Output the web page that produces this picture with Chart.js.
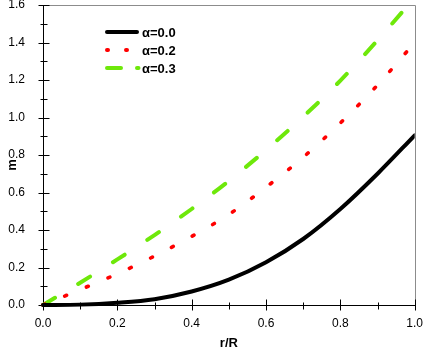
<!DOCTYPE html>
<html>
<head>
<meta charset="utf-8">
<title>m vs r/R</title>
<script src="https://cdn.jsdelivr.net/npm/chart.js@4.4.0/dist/chart.umd.min.js"></script>
<style>
  html, body { margin: 0; padding: 0; background: #fff; }
  canvas { display: block; }
</style>
</head>
<body>
<canvas id="chart" width="423" height="348"></canvas>
<script>
// ---- data ----
const rOverR   = [0, 0.1, 0.2, 0.3, 0.4, 0.5, 0.6, 0.7, 0.8, 0.9, 1.0];
const mAlpha00 = [0, 0.002, 0.012, 0.031, 0.072, 0.135, 0.228, 0.352, 0.512, 0.70, 0.905];
const mAlpha02 = [0, 0.082, 0.166, 0.261, 0.366, 0.483, 0.628, 0.788, 0.971, 1.173, 1.40];
const mAlpha03 = [0, 0.119, 0.243, 0.373, 0.512, 0.662, 0.827, 1.004, 1.197, 1.412, 1.64];
const seriesLabels = ['α=0.0', 'α=0.2', 'α=0.3'];

const FONT = '"Liberation Sans", Arial, sans-serif';

const toPoints = ys => rOverR.map((x, i) => ({ x, y: ys[i] }));

// axis frame + ticks crossing the axis lines (Tecplot style)
const framePlugin = {
  id: 'frame',
  beforeDatasetsDraw(chart) {
    const { ctx, chartArea: a, scales: { x, y } } = chart;
    const L = Math.round(a.left) + 0.5, B = Math.round(a.bottom) + 0.5;
    const R = Math.round(a.right) + 0.5, T = Math.round(a.top) + 0.5;
    ctx.save();
    ctx.lineWidth = 1;
    // top / right border in grey
    ctx.strokeStyle = '#8c8c8c';
    ctx.beginPath();
    ctx.moveTo(L, T); ctx.lineTo(R, T); ctx.lineTo(R, B);
    ctx.stroke();
    // axes
    ctx.strokeStyle = '#000';
    ctx.beginPath();
    ctx.moveTo(L, T); ctx.lineTo(L, B); ctx.lineTo(R, B);
    // y ticks
    for (let k = 0; k <= 16; k++) {
      const py = Math.round(y.getPixelForValue(k / 10)) + 0.5;
      const major = k % 2 === 0;
      ctx.moveTo(L - (major ? 5 : 3), py);
      ctx.lineTo(L + (major ? 6 : 4), py);
    }
    // x ticks
    for (let k = 0; k <= 10; k++) {
      const px = Math.round(x.getPixelForValue(k / 10)) + 0.5;
      const major = k % 2 === 0;
      ctx.moveTo(px, B - (major ? 6 : 3));
      ctx.lineTo(px, B + (major ? 5 : 4));
    }
    ctx.stroke();
    ctx.restore();
  },
  afterDraw(chart) {
    // y axis title
    const { ctx } = chart;
    ctx.save();
    ctx.fillStyle = '#000';
    ctx.font = 'bold 13px ' + FONT;
    ctx.textAlign = 'center';
    ctx.textBaseline = 'middle';
    ctx.translate(12, 165);
    ctx.rotate(-Math.PI / 2);
    ctx.fillText('m', 0, 0);
    ctx.restore();
  }
};

// legend inside the plot, top-left
const legendDashes = [[], [1, 18], [14, 16]];
const legendEnds   = [137, 137, 138.5];
const legendPlugin = {
  id: 'insideLegend',
  afterDraw(chart) {
    const ctx = chart.ctx;
    chart.data.datasets.forEach((ds, i) => {
      const yy = 32 + i * 18;
      ctx.save();
      ctx.strokeStyle = ds.borderColor;
      ctx.lineWidth = 4;
      ctx.lineCap = 'round';
      ctx.setLineDash(legendDashes[i]);
      ctx.beginPath();
      ctx.moveTo(107, yy);
      ctx.lineTo(legendEnds[i], yy);
      ctx.stroke();
      ctx.setLineDash([]);
      ctx.fillStyle = '#000';
      ctx.font = 'bold 13px ' + FONT;
      ctx.textBaseline = 'middle';
      ctx.fillText(ds.label, 142, yy + 1);
      ctx.restore();
    });
  }
};

const lineClip = { left: 2, top: 0, right: 0, bottom: 3 };

new Chart(document.getElementById('chart'), {
  type: 'line',
  data: {
    datasets: [
      {
        label: seriesLabels[0],
        data: toPoints(mAlpha00),
        borderColor: '#000000',
        borderWidth: 4,
        borderCapStyle: 'round',
        cubicInterpolationMode: 'monotone',
        pointRadius: 0,
        clip: lineClip
      },
      {
        label: seriesLabels[1],
        data: toPoints(mAlpha02),
        borderColor: '#ff0000',
        borderWidth: 3.6,
        borderDash: [2, 21.5],
        borderCapStyle: 'round',
        cubicInterpolationMode: 'monotone',
        pointRadius: 0,
        clip: lineClip
      },
      {
        label: seriesLabels[2],
        data: toPoints(mAlpha03),
        borderColor: '#6ee80a',
        borderWidth: 4,
        borderDash: [14, 27],
        borderCapStyle: 'round',
        cubicInterpolationMode: 'monotone',
        pointRadius: 0,
        clip: lineClip
      }
    ]
  },
  options: {
    responsive: false,
    animation: false,
    layout: { padding: { top: 5, right: 8.3, bottom: 0, left: 0 } },
    plugins: {
      legend: { display: false },
      tooltip: { enabled: false }
    },
    scales: {
      x: {
        type: 'linear',
        min: 0,
        max: 1,
        grid: { display: false },
        border: { display: false },
        ticks: {
          stepSize: 0.2,
          maxRotation: 0,
          padding: 3,
          color: '#000',
          font: { family: FONT, size: 12 },
          callback: v => v.toFixed(1)
        },
        title: {
          display: true,
          text: 'r/R',
          color: '#000',
          font: { family: FONT, size: 13, weight: 'bold', lineHeight: 1 },
          padding: { top: 0, bottom: -1.5 }
        },
        afterFit(s) { s.height = 43; s.paddingLeft = 0; s.paddingRight = 0; }
      },
      y: {
        type: 'linear',
        min: 0,
        max: 1.6,
        grid: { display: false },
        border: { display: false },
        ticks: {
          stepSize: 0.2,
          padding: 10,
          color: '#000',
          font: { family: FONT, size: 12 },
          callback: v => v.toFixed(1)
        },
        afterFit(s) { s.width = 43; s.paddingTop = 0; s.paddingBottom = 0; }
      }
    }
  },
  plugins: [framePlugin, legendPlugin]
});
</script>
</body>
</html>
